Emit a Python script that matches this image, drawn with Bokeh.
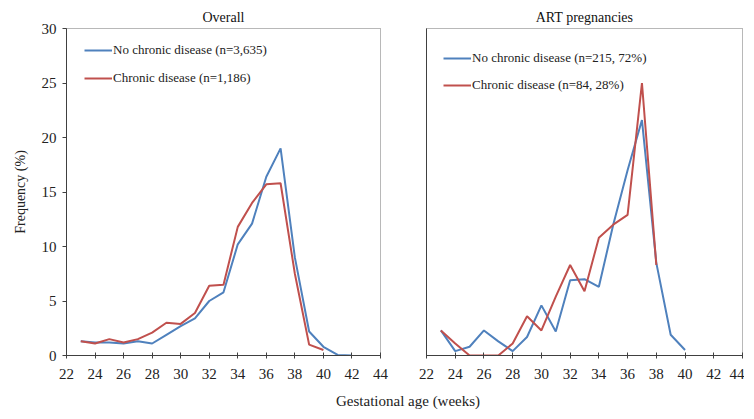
from bokeh.plotting import figure
from bokeh.layouts import row, column
from bokeh.models import Legend, LegendItem, FixedTicker, Div, Range1d
from bokeh.embed import file_html
from bokeh.resources import INLINE

# ---- data ----
weeks_overall_blue = [23, 24, 25, 26, 27, 28, 29, 30, 31, 32, 33, 34, 35, 36, 37, 38, 39, 40, 41, 42]
overall_no_chronic = [1.3, 1.2, 1.2, 1.1, 1.3, 1.1, 1.9, 2.7, 3.4, 5.0, 5.8, 10.2, 12.1, 16.4, 19.0, 9.0, 2.2, 0.8, 0.05, 0.0]
weeks_overall_red = [23, 24, 25, 26, 27, 28, 29, 30, 31, 32, 33, 34, 35, 36, 37, 38, 39, 40]
overall_chronic = [1.3, 1.1, 1.5, 1.2, 1.5, 2.1, 3.0, 2.9, 3.9, 6.4, 6.5, 11.8, 14.0, 15.7, 15.8, 7.5, 1.0, 0.5]

weeks_art_blue = [23, 24, 25, 26, 27, 28, 29, 30, 31, 32, 33, 34, 35, 36, 37, 38, 39, 40]
art_no_chronic = [2.3, 0.4, 0.8, 2.3, 1.3, 0.4, 1.7, 4.6, 2.2, 6.9, 7.0, 6.3, 12.0, 17.0, 21.6, 8.5, 1.9, 0.5]
weeks_art_red = [23, 24, 25, 26, 27, 28, 29, 30, 31, 32, 33, 34, 35, 36, 37, 38]
art_chronic = [2.3, 1.1, 0.0, 0.0, 0.0, 1.1, 3.6, 2.3, 5.4, 8.3, 5.9, 10.8, 12.0, 12.9, 25.0, 8.3]

x_ticks = [22, 24, 26, 28, 30, 32, 34, 36, 38, 40, 42, 44]
y_ticks = [0, 5, 10, 15, 20, 25, 30]

titles = ["Overall", "ART pregnancies"]
labels_overall = ["No chronic disease (n=3,635)", "Chronic disease (n=1,186)"]
labels_art = ["No chronic disease (n=215, 72%)", "Chronic disease (n=84, 28%)"]
y_label = "Frequency (%)"
x_label = "Gestational age (weeks)"

BLUE = "#4F81BD"
RED = "#C0504D"
FONT = "Liberation Serif"
AXC = "#404040"


def make_panel(title, width, bl, br, show_y):
    p = figure(width=width, height=387, output_backend="svg", toolbar_location=None,
               x_range=Range1d(22, 44), y_range=Range1d(0, 30),
               min_border_left=bl, min_border_right=br, min_border_top=28, min_border_bottom=32,
               title=title)
    p.title.align = "center"
    p.title.text_font = FONT
    p.title.text_font_size = "14px"
    p.title.text_font_style = "normal"
    p.title.text_color = "#111111"
    p.title.standoff = 8
    p.xgrid.visible = False
    p.ygrid.visible = False
    p.outline_line_color = "#707070"
    p.outline_line_dash = "1 1"
    p.outline_line_width = 1
    p.background_fill_color = "white"
    p.border_fill_color = "white"

    p.xaxis.ticker = FixedTicker(ticks=x_ticks)
    p.xaxis.major_tick_in = 3
    p.xaxis.major_tick_out = 3
    p.xaxis.minor_tick_line_color = None
    p.xaxis.major_label_text_font = FONT
    p.xaxis.major_label_text_font_size = "15px"
    p.xaxis.major_label_text_color = "#222222"
    p.xaxis.major_label_standoff = 10
    p.xaxis.axis_line_color = AXC
    p.xaxis.major_tick_line_color = AXC

    p.yaxis.axis_line_color = AXC
    p.yaxis.minor_tick_line_color = None
    if show_y:
        p.yaxis.ticker = FixedTicker(ticks=y_ticks)
        p.yaxis.major_tick_in = 0
        p.yaxis.major_tick_out = 4
        p.yaxis.major_tick_line_color = AXC
        p.yaxis.major_label_text_font = FONT
        p.yaxis.major_label_text_font_size = "15px"
        p.yaxis.major_label_text_color = "#222222"
        p.yaxis.major_label_standoff = 6
        p.yaxis.axis_label = y_label
        p.yaxis.axis_label_text_font = FONT
        p.yaxis.axis_label_text_font_size = "14px"
        p.yaxis.axis_label_text_font_style = "normal"
        p.yaxis.axis_label_text_color = "#222222"
        p.yaxis.axis_label_standoff = 11
    else:
        p.yaxis.ticker = FixedTicker(ticks=[])
        p.yaxis.major_tick_line_color = None
    return p


def add_legend(p, r1, r2, labels, xoff, spacing, ytop):
    leg = Legend(items=[LegendItem(label=labels[0], renderers=[r1]),
                        LegendItem(label=labels[1], renderers=[r2])])
    leg.margin = 0
    leg.padding = 10
    leg.border_line_color = None
    leg.background_fill_alpha = 0
    leg.glyph_width = 28
    leg.glyph_height = 20
    leg.label_height = 20
    leg.spacing = spacing
    leg.label_standoff = 1
    leg.label_text_font = FONT
    leg.label_text_font_size = "13px"
    leg.label_text_color = "#222222"
    leg.location = (xoff, 327 - (2 * 10 + 40 + spacing) + ytop)
    p.add_layout(leg)


p1 = make_panel(titles[0], 403, 66, 23, True)
b1 = p1.line(weeks_overall_blue, overall_no_chronic, line_color=BLUE, line_width=2)
r1 = p1.line(weeks_overall_red, overall_chronic, line_color=RED, line_width=2)
add_legend(p1, b1, r1, labels_overall, 18, 8, 8)

p2 = make_panel(titles[1], 341, 23, 2, False)
b2 = p2.line(weeks_art_blue, art_no_chronic, line_color=BLUE, line_width=2)
r2 = p2.line(weeks_art_red, art_chronic, line_color=RED, line_width=2)
add_legend(p2, b2, r2, labels_art, 17, 7, 0)

xl = Div(text=x_label, width=300, height=24, margin=(4, 0, 0, 336),
         styles={"font-family": FONT, "font-size": "15px", "color": "#222222"})

layout = column(row(p1, p2), xl, spacing=0)

open("out.html", "w").write(file_html(layout, INLINE))
